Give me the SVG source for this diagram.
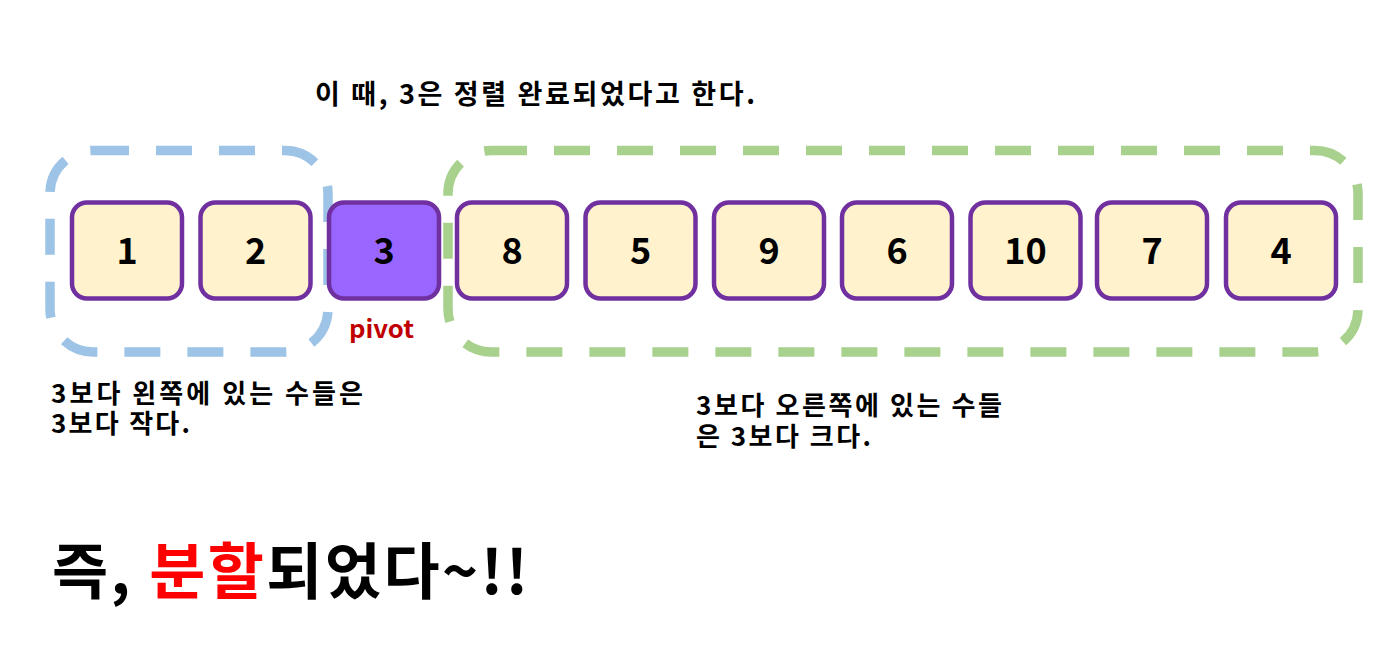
<svg xmlns="http://www.w3.org/2000/svg" width="1395" height="665" viewBox="0 0 1395 665">
<style>
.t{font-family:"Noto Sans CJK KR","Noto Sans",sans-serif;font-weight:bold;fill:#000}
.box{fill:#FFF2CC;stroke:#7030A0;stroke-width:4.5}
.piv{fill:#9966FF;stroke:#7030A0;stroke-width:4.5}
.num{font-family:"Noto Sans CJK KR","Noto Sans",sans-serif;font-weight:bold;font-size:36px;text-anchor:middle;fill:#000}
.grp{fill:none;stroke-width:9.5;stroke-dasharray:36 27}
</style>
<rect width="1395" height="665" fill="#fff"/>
<g id="connectors"></g>
<g id="left-group"><rect class="grp" x="50" y="150.5" width="278" height="201.5" rx="43" stroke="#9DC3E6"/></g>
<g id="right-group"><rect class="grp" x="448" y="150.5" width="910" height="201.5" rx="43" stroke="#A9D18E"/></g>
<g id="n1"><rect class="box" x="72" y="202.5" width="110" height="96" rx="15"/><text class="num" x="127" y="264">1</text></g>
<g id="n2"><rect class="box" x="200.5" y="202.5" width="110" height="96" rx="15"/><text class="num" x="255.5" y="264">2</text></g>
<g id="n3"><rect class="piv" x="329" y="202.5" width="110" height="96" rx="15"/><text class="num" x="384" y="264">3</text></g>
<g id="n8"><rect class="box" x="457" y="202.5" width="110" height="96" rx="15"/><text class="num" x="512" y="264">8</text></g>
<g id="n5"><rect class="box" x="585.5" y="202.5" width="110" height="96" rx="15"/><text class="num" x="640.5" y="264">5</text></g>
<g id="n9"><rect class="box" x="714" y="202.5" width="110" height="96" rx="15"/><text class="num" x="769" y="264">9</text></g>
<g id="n6"><rect class="box" x="842" y="202.5" width="110" height="96" rx="15"/><text class="num" x="897" y="264">6</text></g>
<g id="n10"><rect class="box" x="970.5" y="202.5" width="110" height="96" rx="15"/><text class="num" x="1025.5" y="264">10</text></g>
<g id="n7"><rect class="box" x="1097" y="202.5" width="110" height="96" rx="15"/><text class="num" x="1152" y="264">7</text></g>
<g id="n4"><rect class="box" x="1226" y="202.5" width="110" height="96" rx="15"/><text class="num" x="1281" y="264">4</text></g>
<g id="pivot-label"><text class="t" x="349" y="338" font-size="24" style="fill:#C00000" textLength="65" lengthAdjust="spacingAndGlyphs">pivot</text></g>
<g id="title"><text class="t" x="315" y="104" font-size="27" textLength="440" lengthAdjust="spacing">이 때, 3은 정렬 완료되었다고 한다.</text></g>
<g id="left-note">
<text class="t" font-size="26"><tspan x="51" y="403" textLength="312" lengthAdjust="spacing">3보다 왼쪽에 있는 수들은</tspan><tspan x="51" y="433" textLength="139" lengthAdjust="spacing">3보다 작다.</tspan></text>
</g>
<g id="right-note">
<text class="t" font-size="26"><tspan x="696" y="415" textLength="306" lengthAdjust="spacing">3보다 오른쪽에 있는 수들</tspan><tspan x="696" y="446" textLength="175" lengthAdjust="spacing">은 3보다 크다.</tspan></text>
</g>
<g id="conclusion"><text class="t" x="52" y="594" font-size="61" textLength="476" lengthAdjust="spacing">즉, <tspan style="fill:#FF0000">분할</tspan>되었다~!!</text></g>
</svg>
